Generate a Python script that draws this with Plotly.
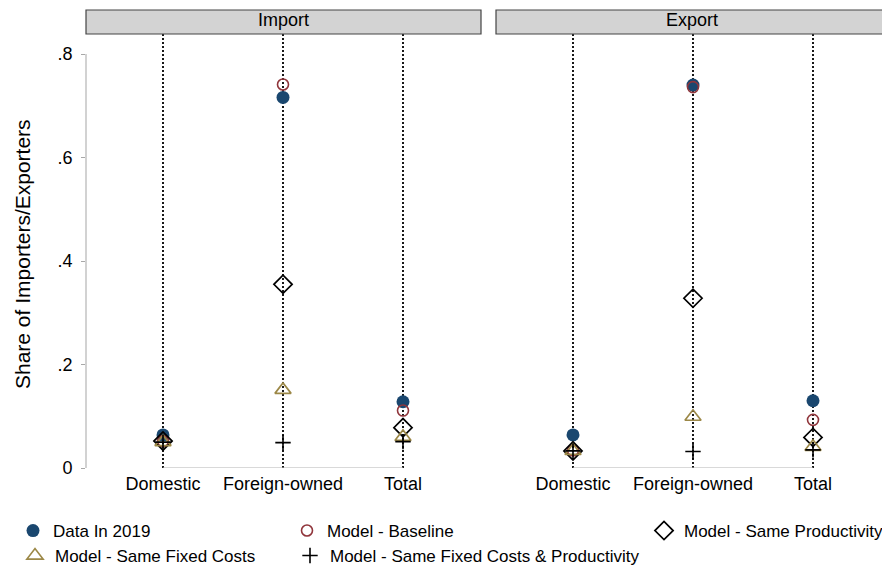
import plotly.graph_objects as go

categories = ["Domestic", "Foreign-owned", "Total"]
panel_titles = ["Import", "Export"]

import_data_2019 = [0.064, 0.716, 0.128]
import_baseline = [0.052, 0.741, 0.111]
import_same_prod = [0.052, 0.355, 0.078]
import_same_fixed = [0.050, 0.151, 0.060]
import_same_both = [0.050, 0.049, 0.051]

export_data_2019 = [0.064, 0.740, 0.130]
export_baseline = [0.034, 0.736, 0.093]
export_same_prod = [0.033, 0.328, 0.059]
export_same_fixed = [0.033, 0.099, 0.041]
export_same_both = [0.033, 0.032, 0.035]

y_tickvals = [0, 0.2, 0.4, 0.6, 0.8]
y_ticktext = ["0", ".2", ".4", ".6", ".8"]
y_title = "Share of Importers/Exporters"

series_names = ["Data In 2019", "Model - Baseline", "Model - Same Productivity",
                "Model - Same Fixed Costs", "Model - Same Fixed Costs & Productivity"]

FONT = "Liberation Sans, Arial, sans-serif"
W, H = 890, 569
OFF = 8  # page body margin offset in the viewer
ML = 86 - OFF
MT = 34 - OFF
PLOT_BOTTOM = 468 - OFF
PLOT_RIGHT = 888 - OFF
MR = W - PLOT_RIGHT
MB = H - PLOT_BOTTOM
PW = W - ML - MR
PH = H - MT - MB
PX_PER_CAT = 120.0
PX_PER_UNIT = 517.5

styles = [
    dict(symbol="circle", size=13, color="#1a476f", line=dict(width=0, color="#1a476f")),
    dict(symbol="circle-open", size=11, color="#90353b", line=dict(width=1.6, color="#90353b")),
    dict(symbol="diamond-open", size=14, color="black", line=dict(width=1.7, color="black")),
    dict(symbol="triangle-up-open", size=14, color="#9c8847", line=dict(width=1.7, color="#9c8847")),
    dict(symbol="cross-thin-open", size=11, color="black", line=dict(width=1.6, color="black")),
]

panel_series = [
    [import_data_2019, import_baseline, import_same_prod, import_same_fixed, import_same_both],
    [export_data_2019, export_baseline, export_same_prod, export_same_fixed, export_same_both],
]

xpos = list(range(1, len(categories) + 1))

fig = go.Figure()

legend_pos = [(36, 531), (310, 531), (667, 531), (38, 556), (313, 556)]
legend_keys = ["legend", "legend2", "legend3", "legend4", "legend5"]

for p, series in enumerate(panel_series):
    xa = "x" if p == 0 else "x2"
    ya = "y" if p == 0 else "y2"
    for s, vals in enumerate(series):
        fig.add_trace(go.Scatter(
            x=xpos, y=vals, mode="markers", xaxis=xa, yaxis=ya,
            name=series_names[s], marker=styles[s],
            showlegend=(p == 0), legend=legend_keys[s], hoverinfo="skip",
        ))

left1, right1 = 86 - OFF, 481 - OFF
left2, right2 = 496 - OFF, 888 - OFF
d1 = [(left1 - ML) / PW, (right1 - ML) / PW]
d2 = [(left2 - ML) / PW, (right2 - ML) / PW]
x0_off = 1 - 77 / PX_PER_CAT
r1 = [x0_off, x0_off + (right1 - left1) / PX_PER_CAT]
r2 = [x0_off, x0_off + (right2 - left2) / PX_PER_CAT]
ymax = PH / PX_PER_UNIT

common_x = dict(tickmode="array", tickvals=xpos, ticktext=categories, showgrid=False,
                zeroline=False, showline=False, ticks="", autorange=False,
                ticklabelstandoff=3,
                tickfont=dict(family=FONT, size=18, color="black"), fixedrange=True)
fig.update_layout(
    xaxis=dict(domain=d1, range=r1, anchor="y", **common_x),
    xaxis2=dict(domain=d2, range=r2, anchor="y2", **common_x),
    yaxis=dict(domain=[0, 1], range=[0, ymax], autorange=False, anchor="x",
               tickmode="array", tickvals=y_tickvals, ticktext=y_ticktext,
               showgrid=False, zeroline=False, showline=False,
               ticks="outside", ticklen=4, tickcolor="#a8a8a8", tickwidth=1,
               ticklabelstandoff=5,
               tickfont=dict(family=FONT, size=18, color="black")),
    yaxis2=dict(domain=[0, 1], range=[0, ymax], autorange=False, anchor="x2",
                showticklabels=False, showgrid=False, zeroline=False, showline=False, ticks=""),
)

def px_to_paper_x(px):
    return (px - OFF - ML) / PW

def px_to_paper_y(py):
    return (PLOT_BOTTOM - (py - OFF)) / PH

shapes = []
annotations = []
for p, (xa, ya) in enumerate([("x", "y"), ("x2", "y2")]):
    for xv in xpos:
        shapes.append(dict(type="line", xref=xa, yref="paper", x0=xv, x1=xv, y0=0, y1=1,
                           line=dict(color="black", width=1.8, dash="2px,2px"), layer="below"))
    shapes.append(dict(type="line", xref=xa, yref=ya, x0=xpos[0], x1=xpos[-1], y0=0, y1=0,
                       line=dict(color="#b4b4b4", width=1.2), layer="below"))
    shapes.append(dict(type="rect", xref=f"{xa} domain", yref="paper", x0=0, x1=1,
                       y0=1.0, y1=1 + 24 / PH,
                       fillcolor="#d3d3d3", line=dict(color="#444444", width=1.2)))
    annotations.append(dict(text=panel_titles[p], xref=f"{xa} domain", yref="paper",
                            x=0.5, y=1 + 14 / PH, showarrow=False, xanchor="center",
                            yanchor="middle", font=dict(family=FONT, size=18, color="black")))

annotations.append(dict(text=y_title, xref="paper", yref="paper",
                        x=px_to_paper_x(22), y=px_to_paper_y(254), textangle=-90,
                        showarrow=False, xanchor="center", yanchor="middle",
                        font=dict(family=FONT, size=21, color="black")))

shapes.append(dict(type="line", xref="paper", yref="y", x0=0, x1=0, y0=0, y1=y_tickvals[-1],
                   line=dict(color="#b4b4b4", width=1.2)))

legend_layout = {}
for key, (sx, sy) in zip(legend_keys, legend_pos):
    legend_layout[key] = dict(
        xref="container", yref="container", x=(sx - 23 - OFF) / W, y=1 - (sy - OFF) / H,
        xanchor="left", yanchor="middle", bgcolor="rgba(0,0,0,0)", borderwidth=0,
        font=dict(family=FONT, size=17, color="black"),
        itemclick=False, itemdoubleclick=False,
    )

fig.update_layout(
    width=W, height=H,
    margin=dict(l=ML, r=MR, t=MT, b=MB, autoexpand=False),
    paper_bgcolor="white", plot_bgcolor="white",
    shapes=shapes, annotations=annotations,
    showlegend=True,
    **legend_layout,
)

fig.write_html("out.html")
